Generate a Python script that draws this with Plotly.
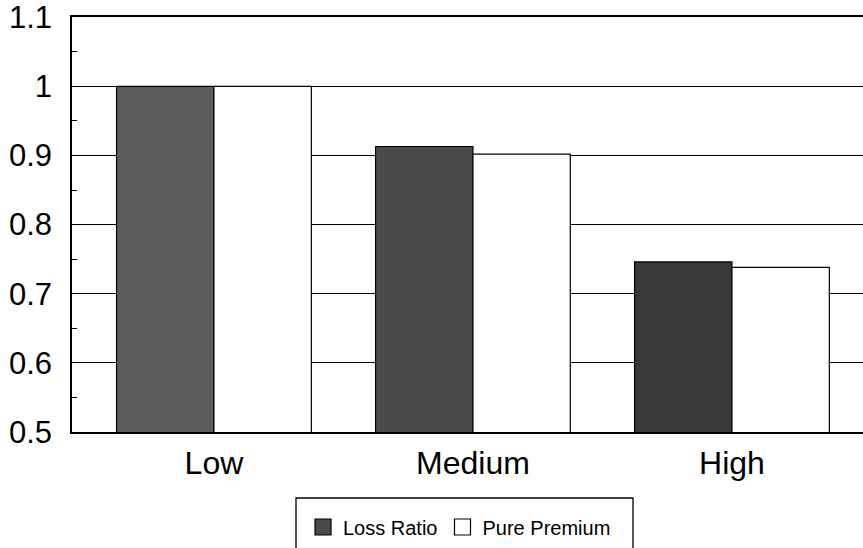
import plotly.graph_objects as go

categories = ["Low", "Medium", "High"]
loss_ratio = [1.000, 0.913, 0.746]
pure_premium = [1.000, 0.902, 0.738]
y_ticks = [0.5, 0.6, 0.7, 0.8, 0.9, 1.0, 1.1]
y_tick_labels = ["0.5", "0.6", "0.7", "0.8", "0.9", "1", "1.1"]

dark_shades = ["#5c5c5c", "#4a4a4a", "#383838"]
FONT = "Liberation Sans, Arial, sans-serif"

# plot area in pixels (for the legend frame)
W, H = 863, 548
L, R, T, B = 72, 0, 17, 116
PW, PH = W - L - R, H - T - B


def px_x(p):
    return (p - L) / PW


def px_y(p):
    return (H - B - p) / PH


fig = go.Figure()
fig.add_trace(go.Bar(
    name="Loss Ratio", x=categories, y=loss_ratio, showlegend=False,
    marker=dict(color=dark_shades, line=dict(color="black", width=1.2)),
))
fig.add_trace(go.Bar(
    name="Pure Premium", x=categories, y=pure_premium, showlegend=False,
    marker=dict(color="white", line=dict(color="black", width=1.2)),
))
# legend entries
fig.add_trace(go.Scatter(
    name="Loss Ratio", x=[None], y=[None], mode="markers",
    marker=dict(symbol="square", size=16, color="#4a4a4a", line=dict(color="black", width=1.2)),
))
fig.add_trace(go.Scatter(
    name="Pure Premium", x=[None], y=[None], mode="markers",
    marker=dict(symbol="square", size=16, color="white", line=dict(color="black", width=1.2)),
))

fig.update_layout(
    width=W, height=H,
    margin=dict(l=L, r=R, t=T, b=B),
    paper_bgcolor="white", plot_bgcolor="white",
    barmode="group", bargap=0.248, bargroupgap=0,
    font=dict(family=FONT, color="black"),
    showlegend=True,
    legend=dict(
        orientation="h", xref="container", yref="container",
        x=303 / W, xanchor="left", y=1 - 527 / H, yanchor="middle",
        borderwidth=0, bgcolor="rgba(0,0,0,0)",
        font=dict(size=20, family=FONT, color="black"),
        traceorder="normal", itemwidth=30, itemsizing="trace",
    ),
    shapes=[dict(
        type="rect", xref="paper", yref="paper",
        x0=px_x(296), x1=px_x(633), y0=px_y(551), y1=px_y(498),
        line=dict(color="black", width=1.3), fillcolor="rgba(0,0,0,0)", layer="above",
    )],
)
fig.update_xaxes(
    range=[-0.548, 2.506],
    showline=True, linecolor="black", linewidth=1.5, mirror=True,
    ticks="", showgrid=False,
    tickfont=dict(size=32, family=FONT, color="black"),
    ticklabelstandoff=2,
)
fig.update_yaxes(
    range=[0.5, 1.1003],
    tickvals=y_ticks, ticktext=y_tick_labels,
    showline=True, linecolor="black", linewidth=1.5,
    showgrid=True, gridcolor="black", gridwidth=1,
    ticks="inside", ticklen=6, tickcolor="black",
    minor=dict(dtick=0.05, ticks="inside", ticklen=5, tickcolor="black", showgrid=False),
    tickfont=dict(size=31, family=FONT, color="black"),
    ticklabelstandoff=12,
    zeroline=False,
)

fig.write_html("out.html")
